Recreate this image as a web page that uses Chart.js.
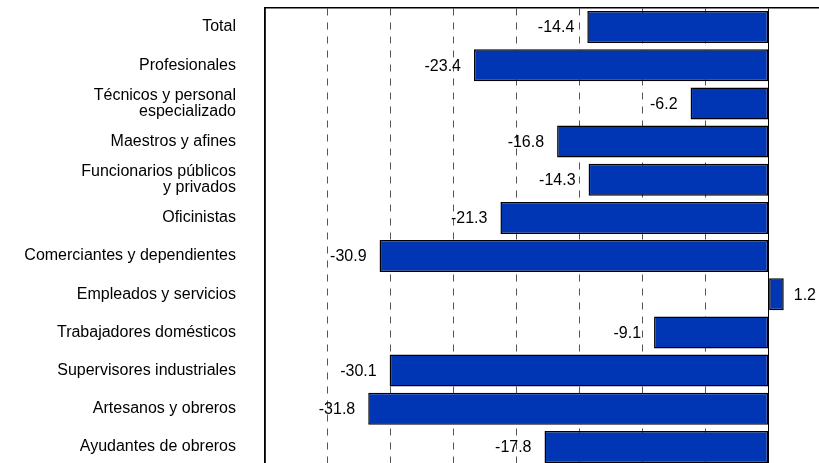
<!DOCTYPE html>
<html>
<head>
<meta charset="utf-8">
<script src="https://cdn.jsdelivr.net/npm/chart.js@4"></script>
<style>
  html, body { margin: 0; padding: 0; background: #fff; overflow: hidden; }
  #wrap { position: relative; width: 819px; height: 466px; }
</style>
</head>
<body>
<div id="wrap"><canvas id="myChart"></canvas></div>
<script>
// Categories (top to bottom) and values
const categories = [
    'Total',
    'Profesionales',
    ['Técnicos y personal', 'especializado'],
    'Maestros y afines',
    ['Funcionarios públicos', 'y privados'],
    'Oficinistas',
    'Comerciantes y dependientes',
    'Empleados y servicios',
    'Trabajadores domésticos',
    'Supervisores industriales',
    'Artesanos y obreros',
    'Ayudantes de obreros'
];
const values = [-14.4, -23.4, -6.2, -16.8, -14.3, -21.3, -30.9, 1.2, -9.1, -30.1, -31.8, -17.8];
const valueLabels = ['-14.4', '-23.4', '-6.2', '-16.8', '-14.3', '-21.3', '-30.9', '1.2', '-9.1', '-30.1', '-31.8', '-17.8'];

const FONT = "'Liberation Sans', Arial, sans-serif";

// draw the value next to each bar
const barLabels = {
    id: 'barLabels',
    afterDatasetsDraw(chart) {
        const ctx = chart.ctx;
        const meta = chart.getDatasetMeta(0);
        ctx.save();
        ctx.font = '16px ' + FONT;
        ctx.fillStyle = '#000';
        ctx.textBaseline = 'middle';
        meta.data.forEach((bar, i) => {
            if (values[i] < 0) {
                ctx.textAlign = 'right';
                ctx.fillText(valueLabels[i], bar.x - 13, bar.y + 1);
            } else {
                ctx.textAlign = 'left';
                ctx.fillText(valueLabels[i], bar.x + 10, bar.y + 1);
            }
        });
        ctx.restore();
    }
};

const config = {
    type: 'bar',
    data: {
        labels: categories,
        datasets: [{
            data: values,
            backgroundColor: '#0036b4',
            borderColor: '#000',
            borderWidth: 1.5,
            borderSkipped: false,
            barPercentage: 0.84,
            categoryPercentage: 1
        }]
    },
    options: {
        indexAxis: 'y',
        responsive: true,
        maintainAspectRatio: false,
        animation: false,
        layout: {
            padding: {top: 8, right: 0, bottom: 0, left: 0}
        },
        scales: {
            x: {
                position: 'top',
                min: -40,
                max: 4,
                ticks: {
                    display: false,
                    stepSize: 5
                },
                grid: {
                    drawTicks: false,
                    lineWidth: 1,
                    color: (c) => {
                        if (!c.tick) return '#000';
                        if (c.tick.value === 0) return '#000';
                        if (c.tick.value > 0) return 'rgba(0,0,0,0)';
                        return '#555';
                    }
                },
                border: {
                    display: true,
                    color: '#000',
                    width: 1.5,
                    dash: (c) => (c.tick && c.tick.value !== 0 && c.tick.value !== -40) ? [7, 7] : []
                }
            },
            y: {
                ticks: {
                    color: '#000',
                    padding: 29,
                    autoSkip: false,
                    font: {family: FONT, size: 16, lineHeight: 1.0}
                },
                grid: {
                    display: false,
                    drawTicks: false
                },
                border: {
                    display: true,
                    color: '#000',
                    width: 1.5
                },
                afterFit: (scale) => {
                    scale.width = 265;
                    scale.paddingTop = 0;
                    scale.paddingBottom = 0;
                }
            }
        },
        plugins: {
            legend: {display: false},
            tooltip: {enabled: false}
        }
    },
    plugins: [barLabels]
};

const chart = new Chart(document.getElementById('myChart'), config);
</script>
</body>
</html>
